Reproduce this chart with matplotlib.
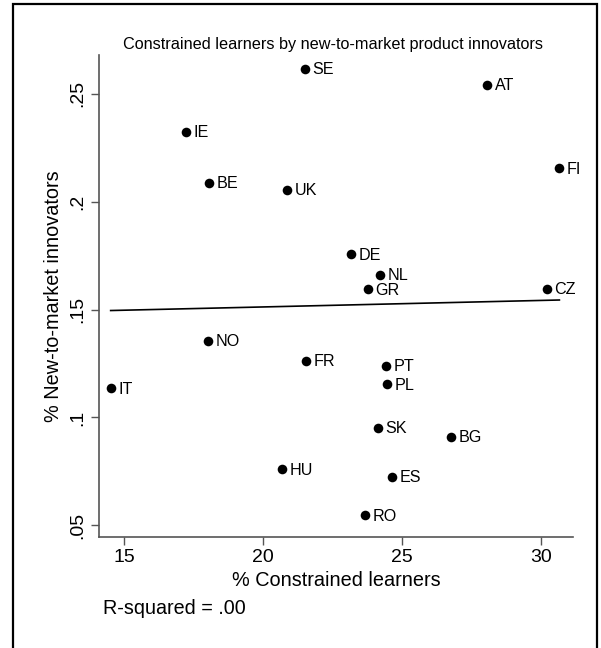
import numpy as np
import matplotlib
matplotlib.use("Agg")
import matplotlib.pyplot as plt
from matplotlib.patches import Rectangle

plt.rcParams['font.family'] = ['Liberation Sans', 'DejaVu Sans']

countries = ["SE", "AT", "IE", "BE", "UK", "FI", "DE", "NL", "GR", "CZ",
             "NO", "FR", "PT", "PL", "IT", "SK", "BG", "HU", "ES", "RO"]
constrained = [21.51, 28.07, 17.22, 18.05, 20.86, 30.67, 23.15, 24.22, 23.78, 30.22,
               18.00, 21.56, 24.41, 24.47, 14.51, 24.14, 26.78, 20.68, 24.64, 23.68]
innovators = [0.2617, 0.2543, 0.2323, 0.2089, 0.2056, 0.2154, 0.1756, 0.1660, 0.1594, 0.1595,
              0.1354, 0.1262, 0.1240, 0.1154, 0.1135, 0.0953, 0.0910, 0.0760, 0.0726, 0.0547]
xticks = [15, 20, 25, 30]
yticks = [0.05, 0.10, 0.15, 0.20, 0.25]
yticklabels = [".05", ".1", ".15", ".2", ".25"]

W, H = 601, 648
fig = plt.figure(figsize=(W / 100, H / 100), dpi=100)
fig.patch.set_facecolor("white")

# outer frame
fig.patches.append(Rectangle((13 / W, -0.01), (597 - 13) / W, (H - 4) / H + 0.01,
                             transform=fig.transFigure, fill=False,
                             edgecolor="black", linewidth=1.6))

ax = fig.add_axes([99 / W, (H - 537) / H, (573 - 99) / W, (537 - 55) / H])
x = np.array(constrained)
y = np.array(innovators)
ax.scatter(x, y, s=48, color="black", zorder=3, linewidths=0)
for c, xi, yi in zip(countries, x, y):
    ax.annotate(c, (xi, yi), xytext=(5.5, -0.6), textcoords="offset points",
                va="center", ha="left", fontsize=11.6)

slope, intercept = np.polyfit(x, y, 1)
xs = np.array([x.min(), x.max()])
ax.plot(xs, intercept + slope * xs, color="black", linewidth=1.2)

ax.set_xlim(14.09, 31.16)
ax.set_ylim(0.0446, 0.2620 + 0.006)
ax.set_xticks(xticks)
ax.set_xticklabels([str(t) for t in xticks], fontsize=14)
ax.set_yticks(yticks)
ax.set_yticklabels(yticklabels, fontsize=14, rotation=90, va="center")
for s in ["top", "right"]:
    ax.spines[s].set_visible(False)
for s in ["left", "bottom"]:
    ax.spines[s].set_color("#555555")
    ax.spines[s].set_linewidth(1.2)
ax.tick_params(direction="out", length=5.5, width=1, color="#555555", pad=3.5)

ax.set_xlabel("% Constrained learners", fontsize=14.3)
ax.xaxis.set_label_coords(0.5, (537 - 581) / 482)
ax.xaxis.label.set_verticalalignment("center")
ax.set_ylabel("% New-to-market innovators", fontsize=14.3)
ax.yaxis.set_label_coords((54 - 99) / 474, 0.5)
ax.yaxis.label.set_verticalalignment("center")
fig.text(333 / W, 1 - 44 / H, "Constrained learners by new-to-market product innovators",
         ha="center", va="center", fontsize=11.7)
fig.text(103 / W, 1 - 608 / H, "R-squared = .00", ha="left", va="center", fontsize=14.2)

fig.savefig("out.png", dpi=100, facecolor="white")
